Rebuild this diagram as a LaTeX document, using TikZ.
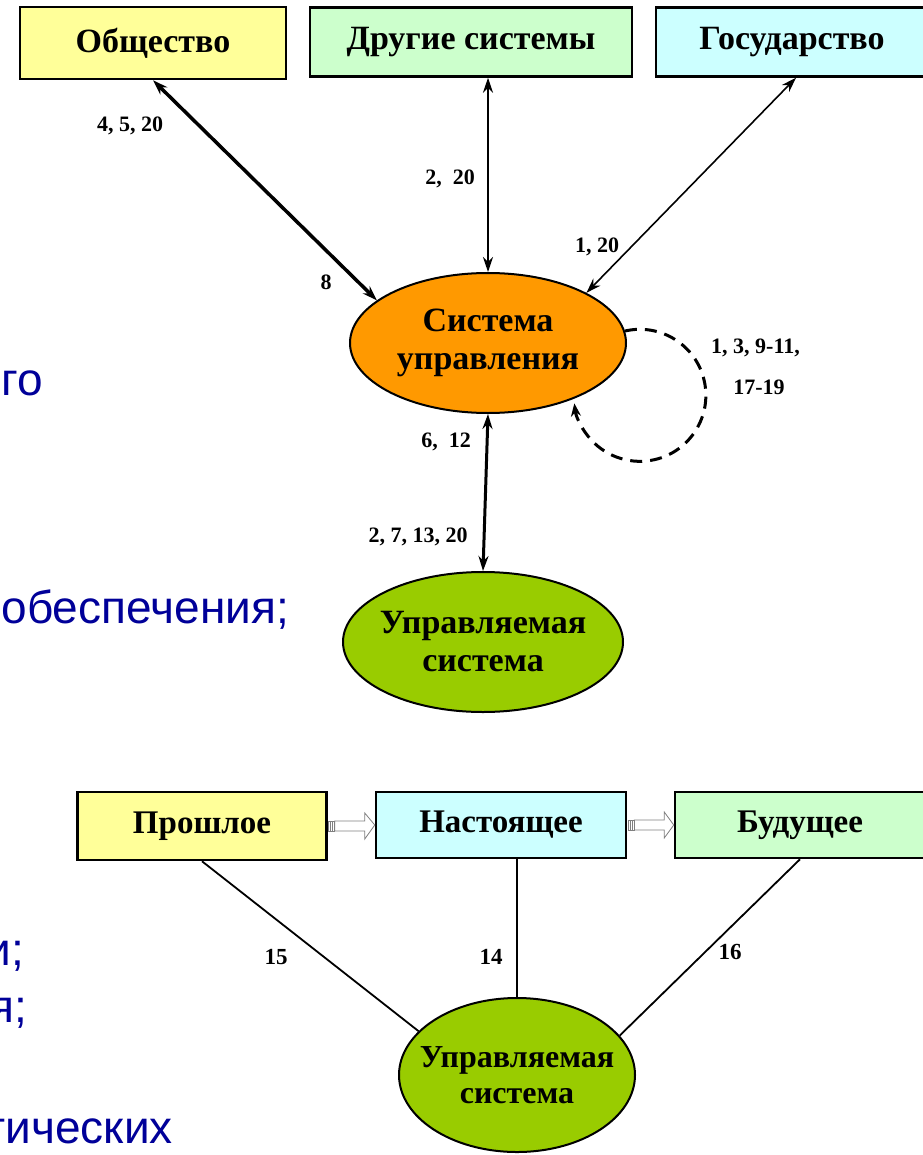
\documentclass[tikz,border=0pt]{standalone}
\usepackage{fontspec}
\setmainfont{Liberation Serif}
\newfontfamily\arialf{Liberation Sans}
\usetikzlibrary{shapes.geometric,arrows.meta,calc}
\definecolor{cyel}{RGB}{255,255,153}
\definecolor{cgrn}{RGB}{204,255,204}
\definecolor{ccyan}{RGB}{204,255,255}
\definecolor{corange}{RGB}{255,153,0}
\definecolor{colive}{RGB}{153,204,0}
\definecolor{cblue}{RGB}{0,0,153}
\definecolor{cgray}{RGB}{128,128,128}
\begin{document}
\begin{tikzpicture}[x=1pt,y=-1pt,
  box/.style={draw,line width=2.5pt,inner sep=0pt,font=\fontsize{34}{36}\selectfont\bfseries},
  sbox/.style={box,font=\fontsize{33}{36}\selectfont\bfseries},
  oval/.style={ellipse,draw,line width=2pt,inner sep=0pt,align=center,font=\fontsize{34}{38}\selectfont\bfseries},
  lab/.style={inner sep=0pt,font=\fontsize{22}{24}\selectfont\bfseries},
  blab/.style={inner sep=0pt,font=\fontsize{23}{25}\selectfont\bfseries},
  bluetext/.style={inner sep=0pt,anchor=base east,text=cblue,font=\arialf\fontsize{46}{50}\selectfont},
  conn/.style={line width=#1,{Stealth[length=15pt,width=10pt]}-{Stealth[length=15pt,width=10pt]}},
  plain/.style={line width=1.8pt},
  hollow/.style={draw=cgray,fill=white,line width=0.8pt}]
\useasboundingbox (0,0) rectangle (922,1155);
\fill[white] (0,0) rectangle (922,1155);

% blue text fragments at left
\node[bluetext] (t1) at (43,395) {го};
\node[bluetext] (t2) at (289,623) {обеспечения;};
\node[bluetext] (t3) at (24,965) {и;};
\node[bluetext] (t4) at (27,1022) {я;};
\node[bluetext] (t5) at (173,1143) {тических};

% top boxes
\node[box,fill=cyel,minimum width=266pt,minimum height=72pt] (obs) at (153,43) {Общество};
\node[box,fill=cgrn,minimum width=322pt,minimum height=69pt] (oth) at (471,42) {Другие системы};
\node[box,fill=ccyan,minimum width=280pt,minimum height=69pt] (gos) at (796,42) {\hspace*{-8pt}Государство};

% ellipses
\node[oval,fill=corange,minimum width=276pt,minimum height=140pt] (sys) at (488,343) {Система\\управления};
\node[oval,fill=colive,minimum width=280pt,minimum height=140pt,inner xsep=-20pt] (upr) at (483,642) {Управляемая\\система};

% connectors upper part
\draw[conn=3.5pt] (obs.south) -- (sys.159);
\draw[conn=2.2pt] (sys.north |- oth.south) -- (sys.north);
\draw[conn=1.6pt] (gos.south) -- (sys.27);
\draw[conn=3pt] (sys.south) -- (upr.north);
\draw[line width=3pt,dash pattern=on 12pt off 8pt,-{Stealth[length=13pt,width=10pt]}]
  (sys.5) arc[start angle=-103,end angle=173,radius=66];

% labels upper part
\node[lab] (l1) at (130,126) {4, 5, 20};
\node[lab] (l2) at (450,179) {2,\ \ 20};
\node[lab] (l3) at (597,247) {1,\ 20};
\node[lab] (l4) at (326,282) {8};
\node[lab,anchor=west] (l5) at (711,348) {1, 3, 9-11,};
\node[lab] (l6) at (759,387) {17-19};
\node[lab] (l7) at (446,442) {6,\ \ 12};
\node[lab] (l8) at (418,537) {2, 7, 13, 20};

% bottom boxes
\node[sbox,fill=cyel,minimum width=249pt,minimum height=68pt] (pro) at (202,826) {Прошлое};
\node[sbox,fill=ccyan,minimum width=250pt,minimum height=66pt] (nas) at (501,825) {Настоящее};
\node[sbox,fill=cgrn,minimum width=250pt,minimum height=66pt] (bud) at (800,825) {Будущее};
\node[oval,fill=colive,minimum width=236pt,minimum height=154pt,inner xsep=-24pt,font=\fontsize{32}{36}\selectfont\bfseries] (upr2) at (517,1075) {Управляемая\\система};

% hollow arrows between time boxes
\foreach \a/\b in {pro/nas,nas/bud}{
  \draw[hollow] ($(\a.east)+(7,-5)$) -- ($(\a.east)+(37,-5)$) -- ($(\a.east)+(37,-13)$)
    -- (\b.west) -- ($(\a.east)+(37,13)$) -- ($(\a.east)+(37,5)$) -- ($(\a.east)+(7,5)$) -- cycle;
  \draw[hollow] ($(\a.east)+(1,-5)$) rectangle ($(\a.east)+(7,5)$);
  \draw[cgray,line width=0.6pt] ($(\a.east)+(3,-5)$) -- ($(\a.east)+(3,5)$)
    ($(\a.east)+(5,-5)$) -- ($(\a.east)+(5,5)$);
}

% plain connectors bottom
\draw[plain] (pro.south) -- (upr2.156);
\draw[plain] (upr2.north |- nas.south) -- (upr2.north);
\draw[plain] (bud.south) -- (upr2.21);

\node[blab] (l9) at (276,957) {15};
\node[blab] (l10) at (491,957) {14};
\node[blab] (l11) at (730,952) {16};
\end{tikzpicture}
\end{document}
